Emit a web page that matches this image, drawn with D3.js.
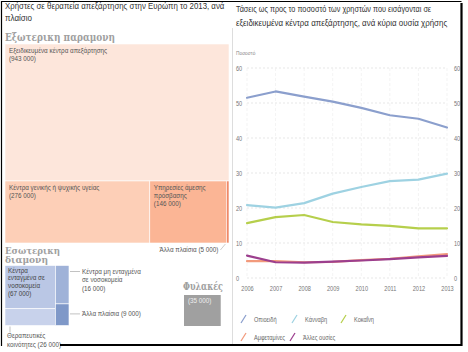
<!DOCTYPE html>
<html>
<head>
<meta charset="utf-8">
<script src="https://cdn.jsdelivr.net/npm/d3@7"></script>
<style>
  body { margin: 0; background: #fff; }
  svg { display: block; }
  .narrow { font-family: "Liberation Sans", Arial, sans-serif; }
  .sans { font-family: "Liberation Sans", Arial, sans-serif; }
  .serif { font-family: "DejaVu Serif", "Liberation Serif", serif; font-weight: bold; }
</style>
</head>
<body>
<svg id="chart" width="468" height="352"></svg>
<script>
// ---- data: treatment settings 2013 ----
const outLabels = ["Εξειδικευμένα κέντρα απεξάρτησης", "Κέντρα γενικής ή ψυχικής υγείας", "Υπηρεσίες άμεσης πρόσβασης", "Άλλα πλαίσια"];
const outValues = [943000, 276000, 146000, 5000];
const resLabels = ["Κέντρα ενταγμένα σε νοσοκομεία", "Θεραπευτικές κοινότητες", "Κέντρα μη ενταγμένα σε νοσοκομεία", "Άλλα πλαίσια"];
const resValues = [67000, 26000, 16000, 9000];
const prisonLabel = "Φυλακές";
const prisonValue = 35000;

// ---- data: trends by primary drug ----
const years = [2006, 2007, 2008, 2009, 2010, 2011, 2012, 2013];
const drugs = ["Οπιοειδή", "Κάνναβη", "Κοκαΐνη", "Αμφεταμίνες", "Άλλες ουσίες"];
const opioids = [51.5, 53.3, 51.8, 50.4, 48.6, 46.5, 45.5, 43.0];
const cannabis = [20.8, 20.1, 21.4, 24.1, 26.0, 27.7, 28.1, 29.8];
const cocaine = [15.7, 17.4, 18.0, 16.0, 15.3, 14.9, 14.2, 14.2];
const amphet = [4.8, 4.8, 4.5, 4.6, 5.1, 5.5, 6.2, 6.8];
const others = [6.4, 4.5, 4.4, 4.7, 5.0, 5.4, 5.9, 6.3];
const yTicks = [0, 10, 20, 30, 40, 50, 60];

const drugColors = ["#8b9fcd", "#9ed2e2", "#b6cf4c", "#f29a7c", "#9c3f8e"];
const series = [opioids, cannabis, cocaine, amphet, others];

const svg = d3.select("#chart");
const fmt = v => d3.format(",")(v).replace(/,/g, " ");

// squeeze text horizontally (no condensed font installed)
function squeeze(sel, f) {
    sel.each(function() {
        const w = this.getComputedTextLength();
        d3.select(this).attr("textLength", w * f).attr("lengthAdjust", "spacingAndGlyphs");
    });
}
function fitTo(sel, w) {
    sel.attr("textLength", w).attr("lengthAdjust", "spacingAndGlyphs");
}
// a text line placed at (x,y) and scaled so it is w wide
function scaledLine(cls, size, color, x, y, w, str) {
    const t = svg.append("text").attr("class", cls).attr("font-size", size)
        .attr("fill", color).attr("x", 0).attr("y", 0).text(str);
    const f = w / t.node().getComputedTextLength();
    t.attr("transform", `translate(${x},${y}) scale(${f},1)`);
    return t;
}

// ---------------- left panel ----------------
scaledLine("sans", 9.4, "#333", 5, 9, 219, "Χρήστες σε θεραπεία απεξάρτησης στην Ευρώπη το 2013, ανά");
scaledLine("sans", 9.4, "#333", 5, 21, 27, "πλαίσιο");

fitTo(svg.append("text").attr("class", "serif").attr("x", 5).attr("y", 41)
    .attr("font-size", 10.5).attr("fill", "#a0a0a0")
    .text("Εξωτερικη παραμονη"), 110);

// out-patient treemap
const outBox = {x0: 5, y0: 44, x1: 229, y1: 243};
const unitArea = (outBox.x1 - outBox.x0) * (outBox.y1 - outBox.y0) / d3.sum(outValues);

const outRoot = d3.hierarchy({children: [
        {i: 0, value: outValues[0]},
        {children: outValues.slice(1).map((v, k) => ({i: k + 1, value: v}))}
    ]})
    .sum(d => d.value || 0);
d3.treemap()
    .size([outBox.x1 - outBox.x0, outBox.y1 - outBox.y0])
    .tile((node, x0, y0, x1, y1) => node.depth === 0
        ? d3.treemapSlice(node, x0, y0, x1, y1)
        : d3.treemapDice(node, x0, y0, x1, y1))(outRoot);

const outColors = ["#fde6db", "#fdcfb7", "#fbb595", "#ef8a69"];
const outG = svg.append("g").attr("transform", `translate(${outBox.x0},${outBox.y0})`);
const outLeaves = outRoot.leaves();
outG.selectAll("rect").data(outLeaves).enter().append("rect")
    .attr("x", d => d.x0).attr("y", d => d.y0)
    .attr("width", d => d.x1 - d.x0).attr("height", d => d.y1 - d.y0)
    .attr("fill", d => outColors[d.data.i])
    .attr("stroke", "#fff").attr("stroke-width", 0.6);

const outLines = [
    [outLabels[0], "(" + fmt(outValues[0]) + ")"],
    [outLabels[1], "(" + fmt(outValues[1]) + ")"],
    ["Υπηρεσίες άμεσης", "πρόσβασης", "(" + fmt(outValues[2]) + ")"]
];
outLeaves.filter(d => d.data.i < 3).forEach(d => {
    const t = outG.append("text").attr("class", "sans").attr("font-size", 6.3).attr("fill", "#555");
    outLines[d.data.i].forEach((s, k) => {
        t.append("tspan").attr("x", d.x0 + 4).attr("y", d.y0 + 9 + k * 7.8).text(s);
    });
});
// small "other" cell, labelled outside
const small = outLeaves.find(d => d.data.i === 3);
outG.append("line")
    .attr("x1", small.x0 - 6).attr("y1", small.y1 + 7)
    .attr("x2", small.x0 - 1).attr("y2", small.y1 + 1)
    .attr("stroke", "#aaa").attr("stroke-width", 0.6);
outG.append("text").attr("class", "sans").attr("font-size", 6.3).attr("fill", "#555")
    .attr("x", small.x0 - 8).attr("y", small.y1 + 9).attr("text-anchor", "end")
    .text(outLabels[3] + " (" + fmt(outValues[3]) + ")");

// residential
fitTo(svg.append("text").attr("class", "serif").attr("font-size", 9.8).attr("fill", "#a0a0a0")
    .attr("x", 5).attr("y", 253.5).text("Εσωτερικη"), 55);
fitTo(svg.append("text").attr("class", "serif").attr("font-size", 9.8).attr("fill", "#a0a0a0")
    .attr("x", 5).attr("y", 263).text("διαμονη"), 43);

const resH = 60;
const resW = d3.sum(resValues) * unitArea / resH;
const resBox = {x0: 5, y0: 265.5};
const resRoot = d3.hierarchy({children: [
        {children: [{i: 0, value: resValues[0]}, {i: 1, value: resValues[1]}]},
        {children: [{i: 2, value: resValues[2]}, {i: 3, value: resValues[3]}]}
    ]})
    .sum(d => d.value || 0);
d3.treemap()
    .size([resW, resH])
    .tile((node, x0, y0, x1, y1) => node.depth === 0
        ? d3.treemapDice(node, x0, y0, x1, y1)
        : d3.treemapSlice(node, x0, y0, x1, y1))(resRoot);

const resColors = ["#bac7e5", "#c8d2eb", "#9fb2d8", "#7f98c8"];
const resG = svg.append("g").attr("transform", `translate(${resBox.x0},${resBox.y0})`);
const resLeaves = resRoot.leaves();
resG.selectAll("rect").data(resLeaves).enter().append("rect")
    .attr("x", d => d.x0).attr("y", d => d.y0)
    .attr("width", d => d.x1 - d.x0).attr("height", d => d.y1 - d.y0)
    .attr("fill", d => resColors[d.data.i])
    .attr("stroke", "#fff").attr("stroke-width", 0.6);

const r0 = resLeaves.find(d => d.data.i === 0);
const r1 = resLeaves.find(d => d.data.i === 1);
const r2 = resLeaves.find(d => d.data.i === 2);
const r3 = resLeaves.find(d => d.data.i === 3);

const t0 = resG.append("text").attr("class", "sans").attr("font-size", 6.3).attr("fill", "#444");
["Κέντρα", "ενταγμένα σε", "νοσοκομεία", "(" + fmt(resValues[0]) + ")"].forEach((s, k) => {
    t0.append("tspan").attr("x", r0.x0 + 3).attr("y", r0.y0 + 7 + k * 7.8).text(s);
});

const lx = r2.x1 + 13;
resG.append("line").attr("x1", r2.x1 + 1).attr("x2", lx - 2)
    .attr("y1", r2.y0 + 6).attr("y2", r2.y0 + 6).attr("stroke", "#999").attr("stroke-width", 0.6);
const t2 = resG.append("text").attr("class", "sans").attr("font-size", 6.3).attr("fill", "#555");
["Κέντρα μη ενταγμένα", "σε νοσοκομεία", "(" + fmt(resValues[2]) + ")"].forEach((s, k) => {
    t2.append("tspan").attr("x", lx).attr("y", r2.y0 + 8 + k * 8.5).text(s);
});

resG.append("line").attr("x1", r3.x1 + 1).attr("x2", lx - 2)
    .attr("y1", r3.y0 + 10).attr("y2", r3.y0 + 10).attr("stroke", "#999").attr("stroke-width", 0.6);
resG.append("text").attr("class", "sans").attr("font-size", 6.3).attr("fill", "#555")
    .attr("x", lx).attr("y", r3.y0 + 12).text(resLabels[3] + " (" + fmt(resValues[3]) + ")");

resG.append("line").attr("x1", r1.x0 + 5).attr("x2", r1.x0 + 5)
    .attr("y1", r1.y1 + 1).attr("y2", r1.y1 + 7).attr("stroke", "#999").attr("stroke-width", 0.6);
resG.append("rect").attr("x", r1.x0).attr("y", r1.y1 + 11).attr("width", 70).attr("height", 20).attr("fill", "#fff");
const t1 = resG.append("text").attr("class", "sans").attr("font-size", 6.3).attr("fill", "#555");
["Θεραπευτικές", "κοινότητες (" + fmt(resValues[1]) + ")"].forEach((s, k) => {
    t1.append("tspan").attr("x", r1.x0 + 2).attr("y", r1.y1 + 12 + k * 9).text(s);
});

// prison
const prH = 31;
const prW = prisonValue * unitArea / prH;
const prX = 184, prY = 295;
svg.append("rect").attr("x", prX).attr("y", prY).attr("width", prW).attr("height", prH).attr("fill", "#a0a0a0");
svg.append("text").attr("class", "sans").attr("font-size", 6.3).attr("fill", "#eee")
    .attr("x", prX + 4).attr("y", prY + 8).text("(" + fmt(prisonValue) + ")");
fitTo(svg.append("text").attr("class", "serif").attr("font-size", 10.5).attr("fill", "#a0a0a0")
    .attr("x", prX - 1).attr("y", 290).text(prisonLabel), 40);

// panel divider
svg.append("line").attr("x1", 232.5).attr("x2", 232.5).attr("y1", 28).attr("y2", 345)
    .attr("stroke", "#ddd").attr("stroke-width", 1);

// ---------------- right panel ----------------
scaledLine("narrow", 9.4, "#333", 236, 12, 195, "Τάσεις ως προς το ποσοστό των χρηστών που εισάγονται σε");
scaledLine("narrow", 9.4, "#333", 236, 26, 211, "εξειδικευμένα κέντρα απεξάρτησης, ανά κύρια ουσία χρήσης");

squeeze(svg.append("text").attr("class", "narrow").attr("font-size", 6).attr("fill", "#888")
    .attr("x", 236).attr("y", 55).text("Ποσοστό"), 0.8);

const x = d3.scaleLinear().domain([2006, 2013]).range([247, 447]);
const y = d3.scaleLinear().domain([0, 60]).range([278, 68]);

const grid = svg.append("g");
grid.selectAll("line.h").data(yTicks).enter().append("line").attr("class", "h")
    .attr("x1", x(2006)).attr("x2", x(2013))
    .attr("y1", d => y(d)).attr("y2", d => y(d))
    .attr("stroke", "#ddd").attr("stroke-width", 0.7).attr("stroke-dasharray", "2,2");
grid.selectAll("line.v").data(years).enter().append("line").attr("class", "v")
    .attr("x1", d => x(d)).attr("x2", d => x(d))
    .attr("y1", y(60)).attr("y2", y(0))
    .attr("stroke", "#eee").attr("stroke-width", 0.7).attr("stroke-dasharray", "3,2");

const axL = d3.axisLeft(y).tickValues(yTicks).tickSize(0).tickPadding(0);
const gl = svg.append("g").attr("class", "narrow").attr("transform", "translate(236,0)").call(axL);
gl.select(".domain").remove();
gl.selectAll("text").attr("text-anchor", "start").attr("font-size", 7).attr("fill", "#777")
    .attr("font-family", null);
squeeze(gl.selectAll("text"), 0.8);

const axR = d3.axisRight(y).tickValues(yTicks).tickSize(0).tickPadding(0);
const gr = svg.append("g").attr("class", "narrow").attr("transform", "translate(454,0)").call(axR);
gr.select(".domain").remove();
gr.selectAll("text").attr("font-size", 7).attr("fill", "#777").attr("font-family", null);
squeeze(gr.selectAll("text"), 0.8);

const axB = d3.axisBottom(x).tickValues(years).tickFormat(d3.format("d")).tickSize(0).tickPadding(0);
const gb = svg.append("g").attr("class", "narrow").attr("transform", "translate(0,286)").call(axB);
gb.select(".domain").remove();
gb.selectAll("text").attr("font-size", 7).attr("fill", "#777").attr("font-family", null);
squeeze(gb.selectAll("text"), 0.8);

const line = d3.line().x((d, i) => x(years[i])).y(d => y(d));
svg.append("g").selectAll("path").data(series).enter().append("path")
    .attr("d", line).attr("fill", "none")
    .attr("stroke", (d, i) => drugColors[i]).attr("stroke-width", 2.2)
    .attr("stroke-linejoin", "round").attr("stroke-linecap", "round");

// legend
const legPos = [[241, 322], [292, 322], [341, 322], [241, 340], [290, 340]];
const leg = svg.append("g").selectAll("g").data(drugs).enter().append("g")
    .attr("transform", (d, i) => `translate(${legPos[i][0]},${legPos[i][1]})`);
leg.append("line").attr("x1", 0).attr("y1", 1).attr("x2", 5).attr("y2", -7)
    .attr("stroke", (d, i) => drugColors[i]).attr("stroke-width", 1.3);
squeeze(leg.append("text").attr("class", "narrow").attr("x", 13).attr("y", 0)
    .attr("font-size", 7).attr("fill", "#666").text(d => d), 0.8);

// frame
svg.append("path").attr("d", "M1.5,346 V1.5 H461.5").attr("fill", "none")
    .attr("stroke", "#000").attr("stroke-width", 1.2);
svg.append("path").attr("d", "M461.5,3 V345 H60").attr("fill", "none")
    .attr("stroke", "#000").attr("stroke-width", 2.2);
</script>
</body>
</html>
